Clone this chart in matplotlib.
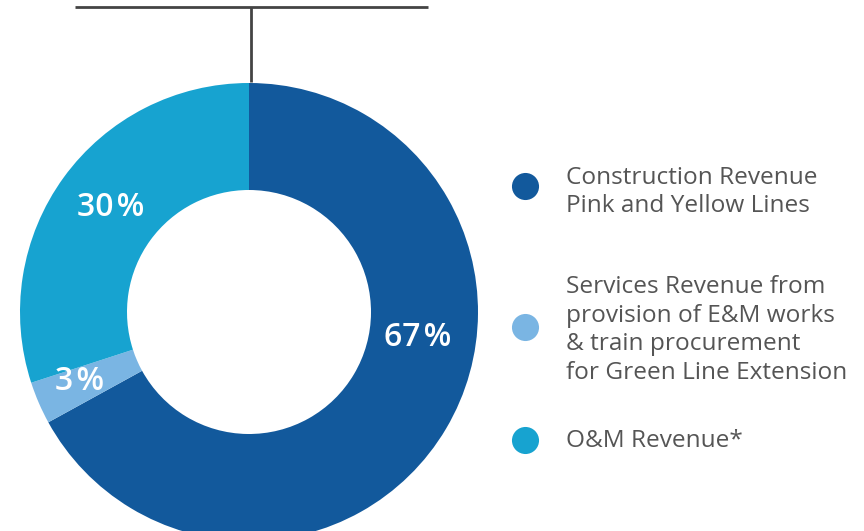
import matplotlib
matplotlib.use("Agg")
import matplotlib.pyplot as plt

categories = ["Construction Revenue\nPink and Yellow Lines",
              "Services Revenue from\nprovision of E&M works\n& train procurement\nfor Green Line Extension",
              "O&M Revenue*"]
values = [67, 3, 30]
labels = ["67%", "3%", "30%"]
colors = ["#12599c", "#7ab5e3", "#17a3d0"]

W, H = 864, 531
fig = plt.figure(figsize=(W / 100, H / 100), dpi=100)
ax = fig.add_axes([0, 0, 1, 1])

def Y(y):
    return H - y

cx, cy = 249, 312
R, r_in = 229, 122
ax.pie(values, colors=colors, startangle=90, counterclock=False,
       center=(cx, Y(cy)), radius=R,
       wedgeprops=dict(width=R - r_in, linewidth=0))

# percentage labels
label_pos = [(418, 337), (80, 382), (111, 208)]
for lab, (x, y) in zip(labels, label_pos):
    ax.text(x, Y(y), lab.replace("%", "\u200a%"), color="white", fontsize=23,
            fontweight="semibold", family=["Open Sans", "DejaVu Sans"],
            ha="center", va="center")

# top connector line
ax.plot([75, 428], [Y(7), Y(7)], color="#444444", lw=2, solid_capstyle="butt")
ax.plot([251, 251], [Y(7), Y(82)], color="#444444", lw=2, solid_capstyle="butt")

# legend
marker_y = [186, 327, 440]
text_y = [192, 330, 441]
for cat, col, my, ty in zip(categories, colors, marker_y, text_y):
    ax.plot([525], [Y(my)], "o", ms=19.5, color=col, mec="none")
    ax.text(566, Y(ty), cat, color="#555555", fontsize=17.6, family="Open Sans",
            ha="left", va="center", linespacing=1.27)

ax.set_xlim(0, W)
ax.set_ylim(0, H)
ax.set_aspect("auto")
ax.axis("off")
fig.savefig("out.png", dpi=100)
